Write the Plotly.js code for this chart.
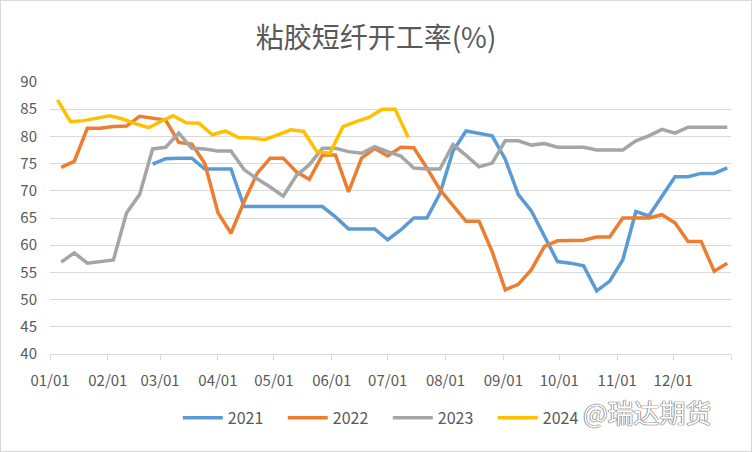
<!DOCTYPE html>
<html>
<head>
<meta charset="utf-8">
<script src="https://cdn.plot.ly/plotly-3.0.1.min.js"></script>
<style>
html,body{margin:0;padding:0;background:#fff;}
#chart{width:750px;height:450px;border:1px solid #d9d9d9;}
</style>
</head>
<body>
<div id="chart"></div>
<script>
// Weekly observation dates (month-day), shared by 2021–2023
const weekDates = ['01-07','01-14','01-21','01-28','02-04','02-11','02-18','02-25','03-04','03-11','03-18','03-25',
  '04-01','04-08','04-15','04-22','04-29','05-06','05-13','05-20','05-27','06-03','06-10','06-17','06-24',
  '07-01','07-08','07-15','07-22','07-29','08-05','08-12','08-19','08-26','09-02','09-09','09-16','09-23','09-30',
  '10-07','10-14','10-21','10-28','11-04','11-11','11-18','11-25','12-02','12-09','12-16','12-23','12-30'];
const dates2024 = ['01-05','01-12','01-19','01-26','02-02','02-09','02-16','02-23','03-01','03-08','03-15','03-22',
  '03-29','04-05','04-12','04-19','04-26','05-03','05-10','05-17','05-24','05-31','06-07','06-14','06-21','06-28',
  '07-05','07-12'];
const dates2021 = weekDates.slice(7);

const v2021 = [74.9,75.9,76.0,76.0,74.0,74.0,74.0,67.1,67.1,67.1,67.1,67.1,67.1,67.1,65.2,63.0,63.0,63.0,61.0,62.8,
  65.0,65.0,69.5,77.3,81.0,80.5,80.1,75.8,69.3,66.3,61.5,57.0,56.7,56.2,51.6,53.4,57.3,66.2,65.4,69.0,72.6,72.6,
  73.2,73.2,74.2];
const v2022 = [74.3,75.4,81.5,81.5,81.8,81.9,83.7,83.4,83.0,78.9,78.6,75.0,66.0,62.2,68.0,73.2,76.0,76.0,73.5,72.1,
  76.6,76.6,69.8,76.0,77.8,76.4,78.0,77.9,74.2,70.2,67.2,64.4,64.4,58.8,51.8,52.8,55.5,59.8,60.8,60.8,60.9,61.5,
  61.5,65.0,65.0,65.0,65.6,64.1,60.7,60.7,55.2,56.7];
const v2023 = [56.9,58.6,56.7,57.0,57.3,65.9,69.3,77.7,78.0,80.6,77.8,77.7,77.3,77.3,73.9,72.2,70.7,69.0,72.8,74.8,
  77.8,77.8,77.2,76.9,78.1,77.2,76.4,74.2,74.0,74.0,78.5,76.5,74.4,75.1,79.2,79.2,78.4,78.7,78.0,78.0,78.0,77.5,
  77.5,77.5,79.2,80.1,81.3,80.6,81.7,81.7,81.7,81.7];
const v2024 = [86.7,82.7,82.9,83.4,83.8,83.2,82.3,81.6,82.7,83.8,82.5,82.4,80.3,81.0,79.8,79.7,79.4,80.3,81.2,80.9,
  77.2,76.9,81.8,82.7,83.5,85.0,85.0,79.8];

const seriesNames = ['2021','2022','2023','2024'];
const tickDates = ['01-01','02-01','03-01','04-01','05-01','06-01','07-01','08-01','09-01','10-01','11-01','12-01'];
const tickLabels = ['01/01','02/01','03/01','04/01','05/01','06/01','07/01','08/01','09/01','10/01','11/01','12/01'];
const titleText = '粘胶短纤开工率(%)';
const watermark = '@瑞达期货';

const Y = '2021-';
const toDate = a => a.map(d => Y + d);
const colors = ['#5B9BD5','#ED7D31','#A5A5A5','#FFC000'];
const xs = [dates2021, weekDates, weekDates, dates2024];
const ys = [v2021, v2022, v2023, v2024];

const traces = ys.map((v, i) => ({
  type: 'scatter', mode: 'lines', name: seriesNames[i],
  x: toDate(xs[i]), y: v,
  line: {color: colors[i], width: 3.5, shape: 'linear'},
  hoverinfo: 'x+y+name'
}));

const font = 'Noto Sans CJK SC, Liberation Sans, sans-serif';
const layout = {
  width: 750, height: 450,
  margin: {l: 49, r: 20, t: 81, b: 97},
  paper_bgcolor: '#ffffff', plot_bgcolor: '#ffffff',
  font: {family: font, color: '#595959', size: 15},
  title: {text: titleText, x: 0.5, xanchor: 'center', y: 0.918, yanchor: 'middle', yref: 'container',
          font: {family: font, size: 28, color: '#595959'}},
  xaxis: {
    type: 'date', range: [Y + '01-01', Y + '12-31 23:59'],
    tickvals: toDate(tickDates).concat(['2022-01-01']), ticktext: tickLabels.concat(['']),
    showgrid: false, zeroline: false,
    showline: true, linecolor: '#d9d9d9', linewidth: 1,
    ticks: 'outside', ticklen: 5, tickcolor: '#d9d9d9',
    tickfont: {size: 15, color: '#595959'}, ticklabelstandoff: 8,
    fixedrange: true
  },
  yaxis: {
    range: [40, 90], dtick: 5, tick0: 40,
    showgrid: true, gridcolor: '#d9d9d9', gridwidth: 1,
    zeroline: false, showline: false, ticks: '',
    tickfont: {size: 15, color: '#595959'}, ticklabelstandoff: 12,
    fixedrange: true
  },
  showlegend: true,
  legend: {orientation: 'h', x: 0.496, xanchor: 'center', y: -0.235, yanchor: 'middle',
           font: {size: 16, color: '#595959'}, itemwidth: 40, traceorder: 'normal', entrywidth: 50},
  annotations: [{
    text: watermark, xref: 'paper', yref: 'paper', x: 0.878, y: -0.213,
    xanchor: 'center', yanchor: 'middle', showarrow: false,
    font: {family: font, size: 26, color: '#ffffff', shadow: '0 0 1px #555, 0 0 1px #555, 0 0 1px #555'}
  }]
};

Plotly.newPlot('chart', traces, layout, {displayModeBar: false, staticPlot: true});
</script>
</body>
</html>
